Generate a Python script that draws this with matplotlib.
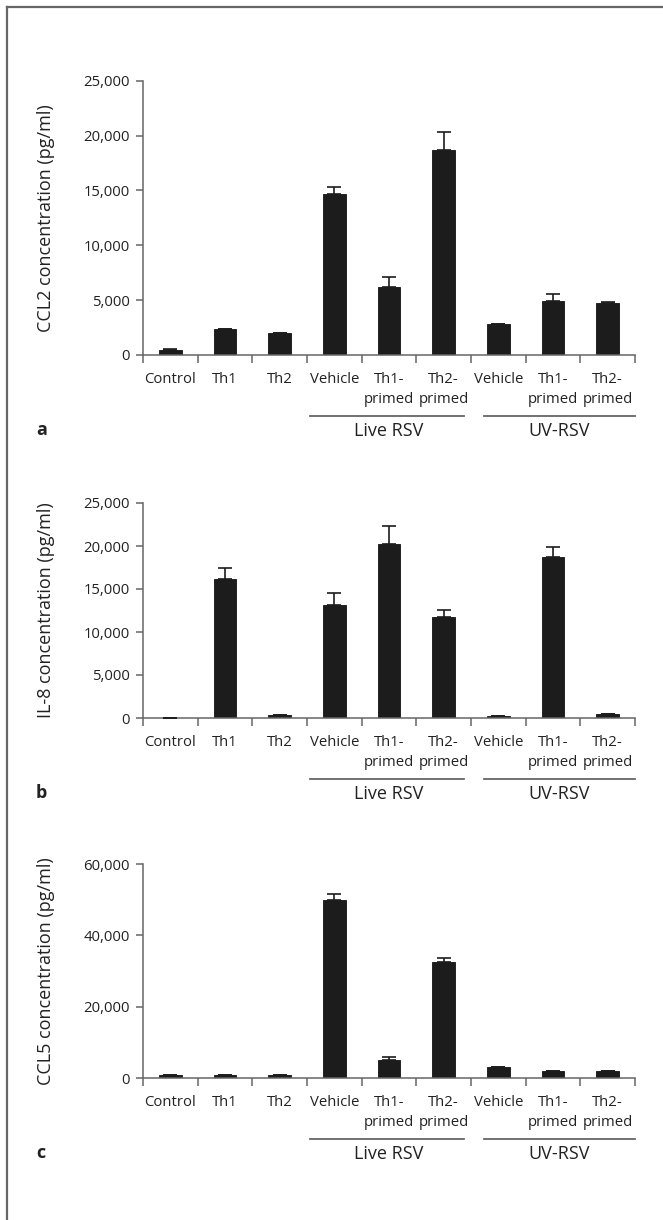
import numpy as np
import matplotlib
matplotlib.use("Agg")
import matplotlib.pyplot as plt
from matplotlib.transforms import offset_copy
from matplotlib.lines import Line2D

plt.rcParams['font.family'] = ['Open Sans', 'DejaVu Sans']

# data
categories = ['Control', 'Th1', 'Th2', 'Vehicle', 'Th1-\nprimed', 'Th2-\nprimed',
              'Vehicle', 'Th1-\nprimed', 'Th2-\nprimed']
groups = ['Live RSV', 'UV-RSV']

ccl2 = [500, 2340, 1975, 14680, 6170, 18690, 2830, 4950, 4770]
ccl2_err = [80, 60, 70, 670, 970, 1610, 0, 580, 90]

il8 = [40, 16160, 310, 13180, 20230, 11780, 190, 18760, 430]
il8_err = [0, 1280, 0, 1320, 2060, 780, 0, 1120, 0]

ccl5 = [935, 935, 935, 50000, 5140, 32430, 2990, 1870, 1870]
ccl5_err = [0, 0, 0, 1680, 750, 1120, 0, 0, 0]

W, H = 663, 1220
fig = plt.figure(figsize=(W / 100, H / 100), dpi=100)

axcol = '#666666'
txtcol = '#222222'


def panel(top_px, zero_px, vals, errs, ymax, ystep, ylabel, letter):
    left, right = 143, 635
    ax = fig.add_axes([left / W, 1 - zero_px / H, (right - left) / W, (zero_px - top_px) / H])
    x = np.arange(len(vals)) + 0.5
    ax.bar(x, vals, width=0.42, color='#1c1c1c', edgecolor='#111111', linewidth=0.6, zorder=2)
    ax.errorbar(x, vals, yerr=[np.zeros(len(errs)), errs], fmt='none', ecolor='#1c1c1c',
                elinewidth=1.2, capsize=5, capthick=1.2, zorder=3)
    ax.set_xlim(0, len(vals))
    ax.set_ylim(0, ymax)
    ax.set_yticks(np.arange(0, ymax + 1, ystep))
    ax.set_yticklabels(['{:,}'.format(v) for v in range(0, ymax + 1, ystep)])
    ax.set_xticks(np.arange(0, len(vals) + 1))
    ax.set_xticklabels([])
    ax.set_xticks(x, minor=True)
    ax.set_xticklabels(categories, minor=True, linespacing=1.45)
    for s in ['top', 'right']:
        ax.spines[s].set_visible(False)
    for s in ['left', 'bottom']:
        ax.spines[s].set_color(axcol)
        ax.spines[s].set_linewidth(1.1)
    ax.tick_params(axis='y', length=5, width=1.1, color=axcol, pad=4.3,
                   labelsize=10.7, labelcolor=txtcol)
    ax.tick_params(axis='x', which='major', length=5.8, width=1.1, color=axcol)
    ax.tick_params(axis='x', which='minor', length=0, pad=12,
                   labelsize=10.7, labelcolor=txtcol)
    ax.set_facecolor('white')

    # group underlines and labels
    trl = offset_copy(ax.get_xaxis_transform(), fig=fig, y=-61, units='dots')
    trt = offset_copy(ax.get_xaxis_transform(), fig=fig, y=-76, units='dots')
    for (x0, x1), name in zip([(3.06, 5.87), (6.24, 9.0)], groups):
        ax.add_line(Line2D([x0, x1], [0, 0], transform=trl, color=axcol, lw=1.3,
                           clip_on=False))
        ax.text((x0 + x1) / 2 if name == 'UV-RSV' else 4.5, 0, name, transform=trt,
                ha='center', va='center', fontsize=13, color=txtcol)

    fig.text(46 / W, 1 - (top_px + zero_px) / 2 / H, ylabel, rotation=90,
             ha='center', va='center', fontsize=13, color=txtcol)
    fig.text(36 / W, 1 - (zero_px + 75) / H, letter, ha='left', va='center',
             fontsize=13, fontweight='bold', color=txtcol)
    return ax


panel(80.7, 355, ccl2, ccl2_err, 25000, 5000, 'CCL2 concentration (pg/ml)', 'a')
panel(503, 718, il8, il8_err, 25000, 5000, 'IL-8 concentration (pg/ml)', 'b')
panel(864, 1078, ccl5, ccl5_err, 60000, 20000, 'CCL5 concentration (pg/ml)', 'c')

# frame lines on left and top
fig.add_artist(Line2D([7 / W, 7 / W], [0, 1 - 7 / H], color='#666666', lw=1.6))
fig.add_artist(Line2D([7 / W, 1], [1 - 7 / H, 1 - 7 / H], color='#666666', lw=1.6))

fig.savefig('out.png', dpi=100, facecolor='white')
